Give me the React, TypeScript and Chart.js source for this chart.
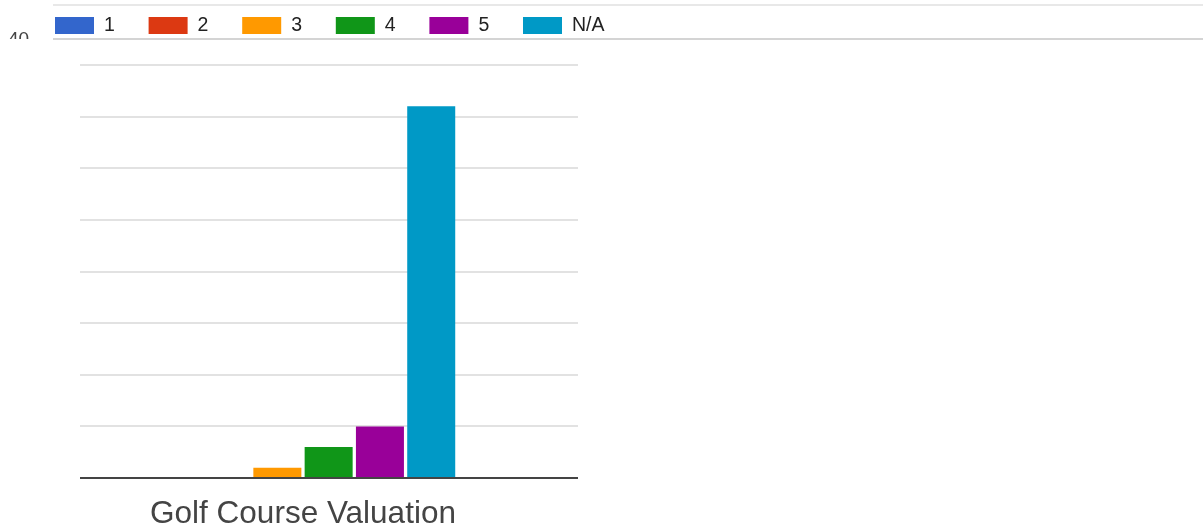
import React, { useEffect, useRef } from "react";
import { Chart, registerables } from "chart.js";

Chart.register(...registerables);

// ---- data ----
const categories = ["Golf Course Valuation"];
const seriesNames = ["1", "2", "3", "4", "5", "N/A"];
const seriesValues = [[0], [0], [1], [3], [5], [36]];
const seriesColors = ["#3366cc", "#dc3912", "#ff9900", "#109618", "#990099", "#0099c6"];
const yMin = 0;
const yMax = 40;
const yStep = 5;
const cutOffTickLabel = "40";

const FONT = "'Liberation Sans', Arial, Helvetica, sans-serif";
const W = 1203;
const H = 532;

export default function App() {
  const ref = useRef<HTMLCanvasElement>(null);

  useEffect(() => {
    const canvas = ref.current;
    if (!canvas) return;

    const extendRight = 578;

    const deco = {
      id: "deco",
      beforeDatasetsDraw(chart: any) {
        const { ctx, chartArea, scales } = chart;
        const y = scales.y;
        ctx.save();
        ctx.strokeStyle = "#d9d9d9";
        ctx.lineWidth = 1.5;
        y.ticks.forEach((t: any) => {
          if (t.value === yMin) return;
          const py = Math.round(y.getPixelForValue(t.value));
          ctx.beginPath();
          ctx.moveTo(chartArea.left, py);
          ctx.lineTo(extendRight, py);
          ctx.stroke();
        });
        ctx.restore();
      },
      afterDraw(chart: any) {
        const { ctx, chartArea } = chart;
        ctx.save();
        // baseline
        ctx.strokeStyle = "#444444";
        ctx.lineWidth = 2;
        ctx.beginPath();
        ctx.moveTo(chartArea.left, Math.round(chartArea.bottom));
        ctx.lineTo(extendRight, Math.round(chartArea.bottom));
        ctx.stroke();

        // top frame lines
        ctx.fillStyle = "#e8e8e8";
        ctx.fillRect(53, 4, W - 53, 2);
        ctx.fillStyle = "#d4d4d4";
        ctx.fillRect(53, 38, W - 53, 2);

        // cut-off tick label
        ctx.save();
        ctx.beginPath();
        ctx.rect(0, 0, 52, 39);
        ctx.clip();
        ctx.fillStyle = "#444444";
        ctx.font = `19px ${FONT}`;
        ctx.textBaseline = "alphabetic";
        ctx.textAlign = "left";
        ctx.fillText(cutOffTickLabel, 8, 45);
        ctx.restore();

        // legend
        ctx.font = `19.5px ${FONT}`;
        ctx.textBaseline = "middle";
        ctx.textAlign = "left";
        chart.data.datasets.forEach((ds: any, i: number) => {
          const x = 55 + i * 93.6;
          ctx.fillStyle = ds.backgroundColor;
          ctx.fillRect(x, 17, 39, 17);
          ctx.fillStyle = "#222222";
          ctx.fillText(ds.label, x + 49, 26);
        });
        ctx.restore();
      },
    };

    const chart = new Chart(canvas, {
      type: "bar",
      data: {
        labels: categories,
        datasets: seriesNames.map((name, i) => ({
          label: name,
          data: seriesValues[i],
          backgroundColor: seriesColors[i],
          borderWidth: 0,
          categoryPercentage: 0.69,
          barPercentage: 0.936,
        })),
      },
      options: {
        responsive: false,
        animation: false,
        layout: { padding: { top: 65, left: 0, right: 0, bottom: 0 } },
        plugins: {
          legend: { display: false },
          tooltip: { enabled: false },
          title: { display: false },
        },
        scales: {
          x: {
            grid: { display: false, drawTicks: false },
            border: { display: false },
            ticks: {
              color: "#444444",
              font: { family: FONT, size: 31.5 },
              padding: 17,
            },
            afterFit: (s: any) => {
              s.height = 54;
            },
          },
          y: {
            min: yMin,
            max: yMax,
            ticks: { display: false, stepSize: yStep },
            grid: { display: false, drawTicks: false },
            border: { display: false },
            afterFit: (s: any) => {
              s.width = 80;
            },
          },
          yR: {
            position: "right",
            display: true,
            ticks: { display: false },
            grid: { display: false, drawTicks: false },
            border: { display: false },
            afterFit: (s: any) => {
              s.width = W - 526;
            },
          },
        },
      },
      plugins: [deco],
    });

    return () => chart.destroy();
  }, []);

  return (
    <div style={{ position: "absolute", left: 0, top: 0, width: W, height: H, background: "#ffffff" }}>
      <canvas ref={ref} width={W} height={H} style={{ display: "block" }} />
    </div>
  );
}
